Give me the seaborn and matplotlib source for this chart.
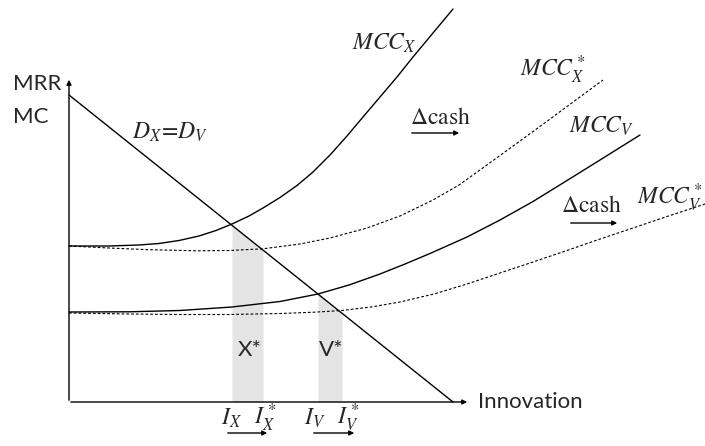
import numpy as np
import matplotlib
matplotlib.use('Agg')
from matplotlib import pyplot as plt
import seaborn as sns

# demand line D_X = D_V (innovation, MRR)
demand_x = [0, 384]
demand_y = [307, 0]

# marginal cost of capital curves
mcc_x_x = [0, 40, 70, 90, 110, 130, 147, 163, 180, 194, 211, 228, 244, 261,
           278, 294, 311, 328, 344, 364, 384]
mcc_x_y = [156, 156, 157, 158.5, 161.5, 166, 171.5, 178, 186, 194, 204.5,
           216.5, 230, 247, 266, 285, 305, 325, 345, 369, 393]

mcc_xs_x = [0, 40, 80, 128, 160, 194, 231, 261, 298, 331, 364, 390, 411,
            431, 451, 475, 498, 534]
mcc_xs_y = [156, 154, 152.3, 151.2, 151.5, 153.2, 158, 164, 174, 186, 202,
            217, 232, 246.5, 261, 278.5, 295.5, 322]

mcc_v_x = [0, 60, 111, 163, 211, 249, 280, 311, 336, 361, 398, 431, 464,
           494, 531, 571]
mcc_v_y = [90, 90.2, 91.5, 95, 100.5, 108, 117, 128, 138, 148.5, 165, 182,
           200.5, 219, 242, 267]

mcc_vs_x = [0, 60, 111, 160, 211, 245, 273, 302, 331, 365, 398, 431, 464,
            498, 531, 564, 598, 636]
mcc_vs_y = [89, 88, 87.5, 87.5, 88.5, 89.8, 91.5, 95, 100, 108, 118, 129,
            140, 151.5, 163, 174, 185.5, 198]

# optimal innovation levels
i_x, i_xs = 163, 194
i_v, i_vs = 249, 273

sns.set_style('white')
plt.rcParams['font.family'] = ['Lato', 'DejaVu Sans']
plt.rcParams['mathtext.fontset'] = 'stix'

fig = plt.figure(figsize=(7.05, 4.46), dpi=100)
ax = fig.add_axes([0, 0, 1, 1])
ax.set_xlim(-69, 636)
ax.set_ylim(-44, 402)
ax.axis('off')

# shaded areas under demand between the two optima
for a, b in [(i_x, i_xs), (i_v, i_vs)]:
    xs = np.array([a, b])
    ax.fill_between(xs, 0, np.interp(xs, demand_x, demand_y),
                    color='#e4e4e4', lw=0, zorder=1)

sns.lineplot(x=demand_x, y=demand_y, ax=ax, color='black', lw=1, zorder=3)
sns.lineplot(x=mcc_x_x, y=mcc_x_y, ax=ax, color='black', lw=1, zorder=3)
sns.lineplot(x=mcc_v_x, y=mcc_v_y, ax=ax, color='black', lw=1, zorder=3)
for xs, ys in [(mcc_xs_x, mcc_xs_y), (mcc_vs_x, mcc_vs_y)]:
    line = ax.plot(xs, ys, color='black', lw=0.8, zorder=3)[0]
    line.set_dashes((2.5, 1.8))

# axes with arrows
ax.annotate('', xy=(0, 325), xytext=(0, -1),
            arrowprops=dict(arrowstyle='-|>', lw=1, color='black', mutation_scale=7))
ax.annotate('', xy=(401, 0), xytext=(-1, 0),
            arrowprops=dict(arrowstyle='-|>', lw=1, color='black', mutation_scale=7))

ax.text(-56, 318, 'MRR', fontsize=16, va='center', ha='left')
ax.text(-56, 285, 'MC', fontsize=16, va='center', ha='left')
ax.text(409, 0, 'Innovation', fontsize=16, va='center', ha='left')
ax.text(181, 52, 'X*', fontsize=16, va='center', ha='center')
ax.text(262, 52, 'V*', fontsize=16, va='center', ha='center')

ax.text(101, 270, r'$D_X\!=\!D_V$', fontsize=17, va='center', ha='center')
ax.text(315, 359, r'$MCC_X$', fontsize=17, va='center', ha='center')
ax.text(484, 332, r'$MCC_X^*$', fontsize=17, va='center', ha='center')
ax.text(532, 276, r'$MCC_V$', fontsize=17, va='center', ha='center')
ax.text(601, 204, r'$MCC_V^*$', fontsize=17, va='center', ha='center')

ax.text(371, 285, r'$\Delta\mathrm{cash}$', fontsize=17, va='center', ha='center')
ax.text(522, 197, r'$\Delta\mathrm{cash}$', fontsize=17, va='center', ha='center')

arrow = dict(arrowstyle='-|>', lw=1, color='black', mutation_scale=7)
ax.annotate('', xy=(393, 269), xytext=(340, 269), arrowprops=arrow)
ax.annotate('', xy=(551, 179), xytext=(499, 179), arrowprops=arrow)

ax.text(162, -16, r'$I_X$', fontsize=17, va='center', ha='center')
ax.text(196, -16, r'$I_X^*$', fontsize=17, va='center', ha='center')
ax.text(246, -16, r'$I_V$', fontsize=17, va='center', ha='center')
ax.text(279, -16, r'$I_V^*$', fontsize=17, va='center', ha='center')
ax.annotate('', xy=(201, -31), xytext=(156, -31), arrowprops=arrow)
ax.annotate('', xy=(288, -31), xytext=(242, -31), arrowprops=arrow)

fig.savefig('out.png', dpi=100)
